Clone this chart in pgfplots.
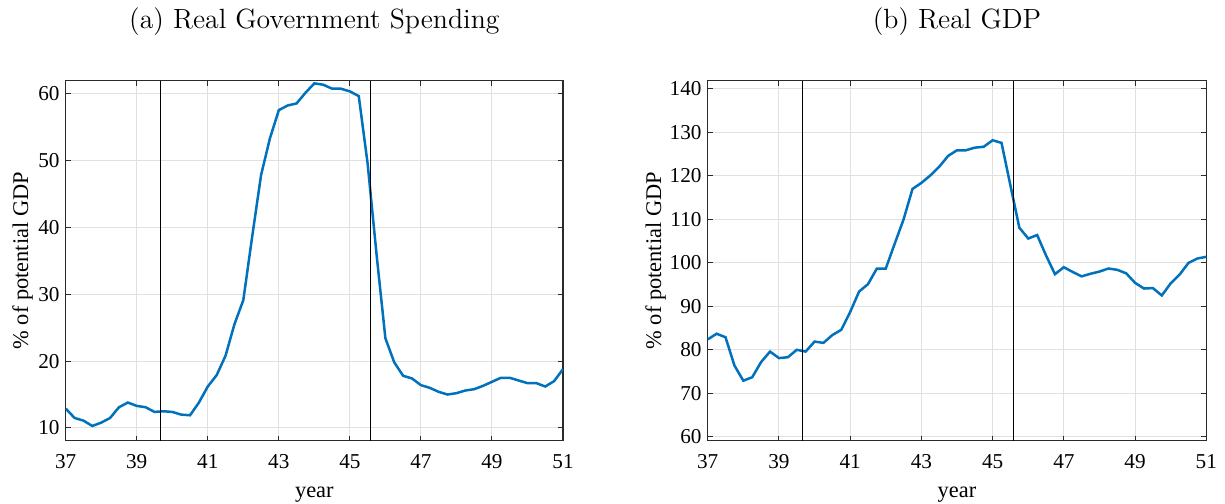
\documentclass[border=0pt]{standalone}
\usepackage{fontspec}
\usepackage{pgfplots}
\pgfplotsset{compat=1.18}
\newfontfamily\tnr{Liberation Serif}
\definecolor{mblue}{rgb}{0,0.447,0.741}
\definecolor{axgray}{rgb}{0.17,0.17,0.17}
\definecolor{gridgray}{rgb}{0.88,0.88,0.88}
\pgfplotsset{
  every axis title shift=0pt,
  mstyle/.style={
    scale only axis,
    width=#1,
    height=180pt,
    anchor=south west,
    xmin=37, xmax=51,
    xtick={37,39,...,51},
    grid=major,
    major grid style={gridgray, line width=0.5pt},
    axis line style={axgray, line width=0.6pt},
    tick style={axgray, line width=0.5pt},
    major tick length=2.5pt,
    tick align=inside,
    xtick pos=both, ytick pos=both,
    /pgf/number format/assume math mode=true,
    tick label style={font=\tnr\fontsize{10.6}{12}\selectfont},
    label style={font=\tnr\fontsize{11.2}{13}\selectfont},
    xticklabel style={anchor=base, yshift=-13.65pt},
    yticklabel style={anchor=east, inner sep=0pt, xshift=-2.9pt},
    xlabel={year},
    xlabel style={at={(rel axis cs:0.5,0)}, anchor=base, yshift=-28.15pt},
    ylabel={\% of potential GDP},
    title style={font=\fontsize{13.9}{16}\selectfont, at={(rel axis cs:0.5,1)}, anchor=base, yshift=25.9pt},
  }
}
\begin{document}
\begin{tikzpicture}
\path[use as bounding box] (0,0) rectangle (612.5pt,251.5pt);
\begin{axis}[mstyle=248.65pt, at={(32.85pt,31.15pt)},
  ymin=8.1, ymax=61.9, ytick={10,20,...,60},
  ylabel style={at={([xshift=-18.85pt]rel axis cs:0,0.5)}, anchor=base, rotate=0},
  title={(a) Real Government Spending}]
\addplot[mblue, line width=1.25pt] coordinates {
(37.00,12.9) (37.25,11.5) (37.50,11.1) (37.75,10.3) (38.00,10.8) (38.25,11.5)
(38.50,13.1) (38.75,13.8) (39.00,13.3) (39.25,13.1) (39.50,12.4) (39.75,12.5)
(40.00,12.4) (40.25,12.0) (40.50,11.9) (40.75,13.8) (41.00,16.2) (41.25,17.9)
(41.50,20.8) (41.75,25.5) (42.00,29.1) (42.25,38.6) (42.50,47.8) (42.75,53.3)
(43.00,57.5) (43.25,58.2) (43.50,58.5) (43.75,60.1) (44.00,61.5) (44.25,61.3)
(44.50,60.7) (44.75,60.7) (45.00,60.3) (45.25,59.6) (45.50,49.5) (45.75,36.0)
(46.00,23.4) (46.25,19.8) (46.50,17.8) (46.75,17.4) (47.00,16.4) (47.25,16.0)
(47.50,15.4) (47.75,15.0) (48.00,15.2) (48.25,15.6) (48.50,15.8) (48.75,16.3)
(49.00,16.9) (49.25,17.5) (49.50,17.5) (49.75,17.1) (50.00,16.7) (50.25,16.7)
(50.50,16.2) (50.75,17.0) (51.00,18.8)};
\addplot[black, line width=0.5pt] coordinates {(39.667,8.1) (39.667,61.9)};
\addplot[black, line width=0.5pt] coordinates {(45.583,8.1) (45.583,61.9)};
\end{axis}
\begin{axis}[mstyle=249.3pt, at={(353.85pt,31.15pt)},
  ymin=59.1, ymax=141.9, ytick={60,70,...,140},
  ylabel style={at={([xshift=-23.35pt]rel axis cs:0,0.5)}, anchor=base, rotate=0},
  title={(b) Real GDP}]
\addplot[mblue, line width=1.25pt] coordinates {
(37.00,82.4) (37.25,83.7) (37.50,82.9) (37.75,76.4) (38.00,72.9) (38.25,73.7)
(38.50,77.2) (38.75,79.6) (39.00,78.1) (39.25,78.3) (39.50,80.0) (39.75,79.6)
(40.00,81.9) (40.25,81.6) (40.50,83.4) (40.75,84.6) (41.00,88.7) (41.25,93.4)
(41.50,95.1) (41.75,98.7) (42.00,98.7) (42.25,104.4) (42.50,110.0) (42.75,117.0)
(43.00,118.4) (43.25,120.1) (43.50,122.1) (43.75,124.6) (44.00,125.9) (44.25,125.9)
(44.50,126.5) (44.75,126.7) (45.00,128.2) (45.25,127.6) (45.50,117.8) (45.75,108.1)
(46.00,105.6) (46.25,106.4) (46.50,101.7) (46.75,97.4) (47.00,99.0) (47.25,97.9)
(47.50,96.9) (47.75,97.5) (48.00,98.0) (48.25,98.7) (48.50,98.4) (48.75,97.6)
(49.00,95.4) (49.25,94.1) (49.50,94.2) (49.75,92.5) (50.00,95.3) (50.25,97.3)
(50.50,100.0) (50.75,101.0) (51.00,101.4)};
\addplot[black, line width=0.5pt] coordinates {(39.667,59.1) (39.667,141.9)};
\addplot[black, line width=0.5pt] coordinates {(45.583,59.1) (45.583,141.9)};
\end{axis}
\end{tikzpicture}
\end{document}
